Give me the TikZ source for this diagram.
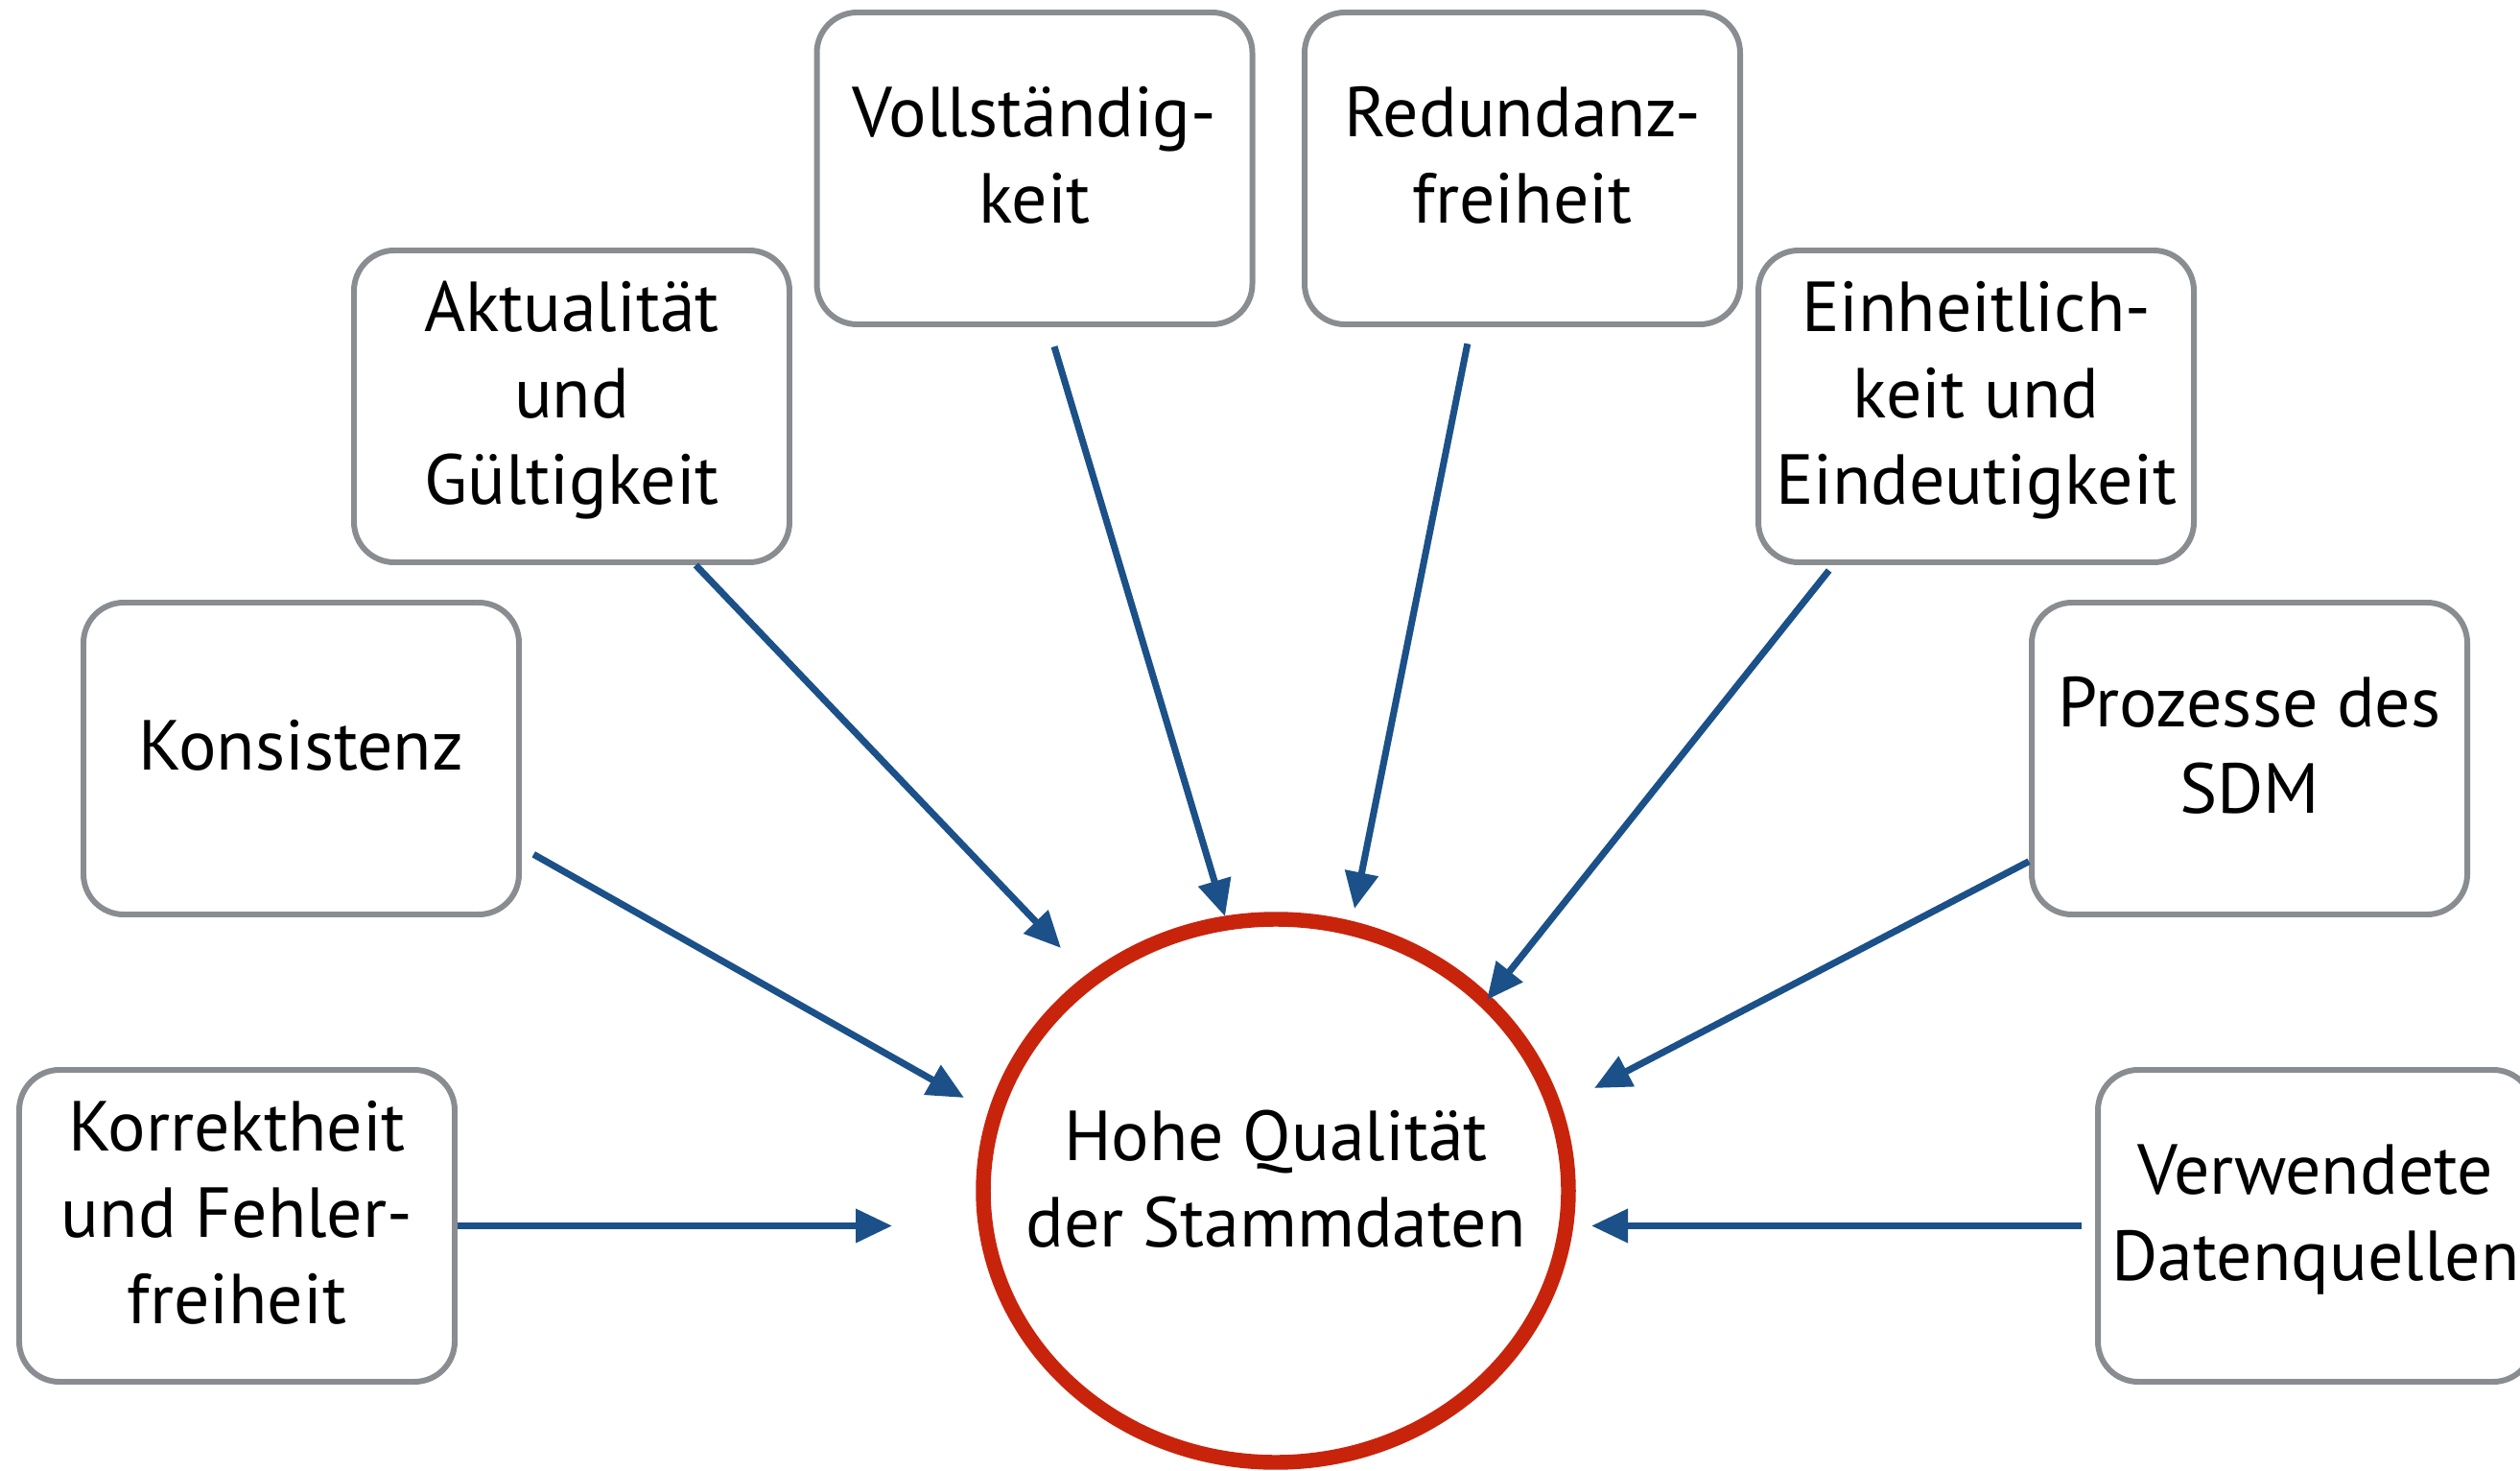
\documentclass[tikz,border=0pt]{standalone}
\usepackage{fontspec}
\setmainfont{PT Sans}
\usepackage{tikz}
\usetikzlibrary{shapes.geometric, arrows.meta, positioning}

\definecolor{boxgray}{RGB}{137,140,144}
\definecolor{arrblue}{RGB}{27,80,136}
\definecolor{ringred}{RGB}{200,36,12}

\begin{document}
\begin{tikzpicture}[
    crit/.style={draw=boxgray, line width=1.7pt, rounded corners=0.42cm, fill=white,
        minimum width=4.54cm, minimum height=3.25cm, align=center, text depth=0.28cm,
        font=\fontsize{21}{25.6}\selectfont},
    goal/.style={ellipse, draw=ringred, line width=4.4pt, minimum width=6.1cm,
        minimum height=5.66cm, inner xsep=-1.2cm, inner ysep=0pt, align=center,
        text depth=0.26cm, font=\fontsize{21}{25.6}\selectfont},
    arr/.style={draw=arrblue, line width=2pt, -{Triangle[length=0.38cm,width=0.34cm]}}
]
\useasboundingbox (0,0) rectangle (26.27,15.32);

% Center
\node[goal] (hq) at (13.30,2.91) {Hohe Qualität\\der Stammdaten};

% Quality criteria
\node[crit] (korr) at (2.47,2.545) {Korrektheit\\und Fehler-\\freiheit};
\node[crit] (kons) at (3.14,7.415) {Konsistenz};
\node[crit] (akt) at (5.96,11.085) {Aktualität\\und\\Gültigkeit};
\node[crit] (voll) at (10.785,13.565) {Vollständig-\\keit};
\node[crit] (red) at (15.87,13.565) {Redundanz-\\freiheit};
\node[crit] (einh) at (20.60,11.085) {Einheitlich-\\keit und\\Eindeutigkeit};
\node[crit] (proz) at (23.45,7.415) {Prozesse des\\SDM};
\node[crit] (verw) at (24.14,2.545) {Verwendete\\Datenquellen};

% Arrow tips around the ring
\coordinate (korrIn) at (9.30,2.545);
\coordinate (konsIn) at (10.05,3.88);
\coordinate (aktIn) at (11.06,5.44);
\coordinate (vollIn) at (12.77,5.77);
\coordinate (redIn) at (14.12,5.85);
\coordinate (einhIn) at (15.50,4.90);
\coordinate (prozIn) at (16.62,3.98);
\coordinate (verwIn) at (16.59,2.545);

% Arrows
\draw[arr] (korr.east) -- (korrIn);
\draw[arr, shorten <=4pt] (kons.-22) -- (konsIn);
\draw[arr] (akt.-52) -- (aktIn);
\draw[arr, shorten <=6pt] (voll.-85) -- (vollIn);
\draw[arr, shorten <=5pt] (red.-108) -- (redIn);
\draw[arr, shorten <=2pt] (einh.-132) -- (einhIn);
\draw[arr] (proz.-155) -- (prozIn);
\draw[arr, shorten <=4pt] (verw.west) -- (verwIn);

\end{tikzpicture}
\end{document}
